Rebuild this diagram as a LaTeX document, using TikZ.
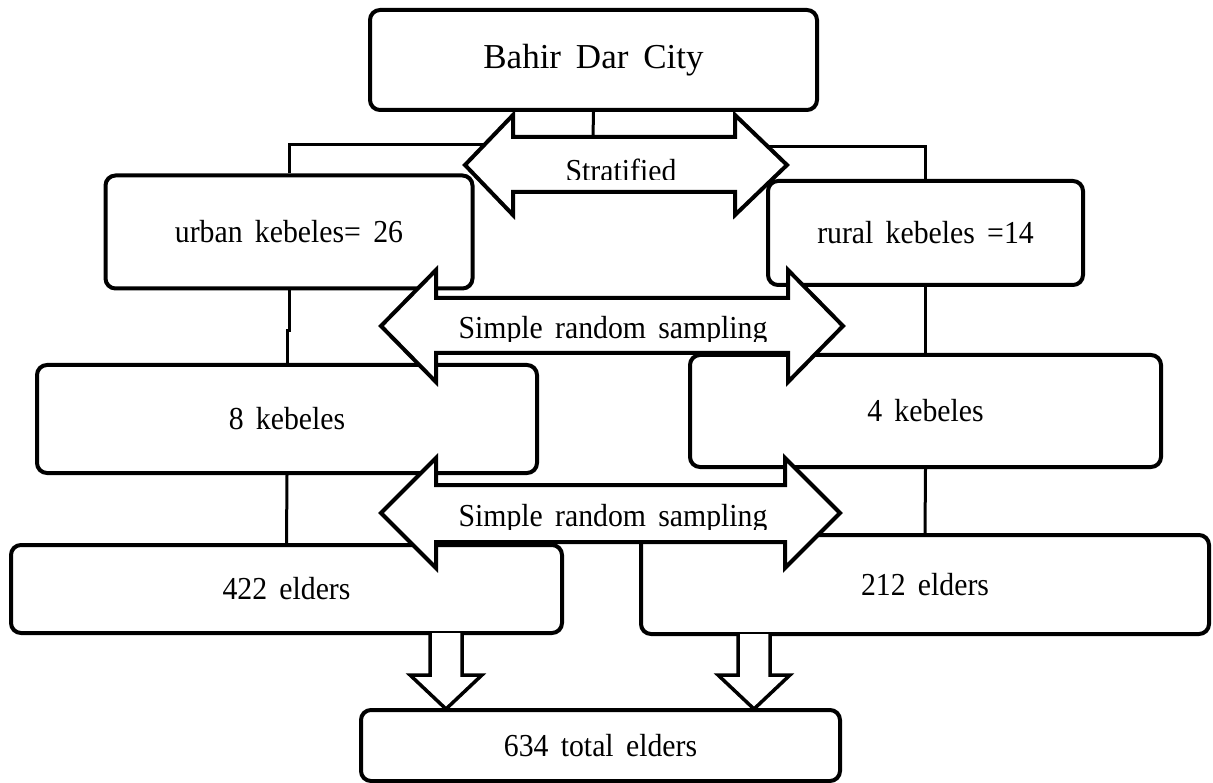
\documentclass[tikz,border=0pt]{standalone}
\usepackage{fontspec}
\setmainfont[WordSpace=1.7]{Liberation Serif}
\newfontfamily\lblfont[FakeStretch=0.93,WordSpace=1.65]{Liberation Serif}
\usetikzlibrary{calc}
\begin{document}
\begin{tikzpicture}[x=1pt,y=-1pt,
  box/.style={draw, line width=4pt, rounded corners=10pt, fill=white, inner sep=0pt, font=\lblfont\fontsize{32}{36}\selectfont},
  conn/.style={line width=3pt},
  bigarrow/.style={draw, line width=4pt, fill=white, line join=miter},
  downarrow/.style={draw, line width=3.5pt, fill=white, line join=miter},
  lbl/.style={anchor=base, inner sep=0pt, font=\lblfont\fontsize{32}{36}\selectfont}]
\useasboundingbox (0,0) rectangle (1213,783);

% boxes
\node[box, minimum width=447pt, minimum height=100pt, font=\rmfamily\fontsize{35}{40}\selectfont] (bahir) at (593.5,60) {Bahir Dar City};
\node[box, minimum width=367pt, minimum height=113pt] (urban) at (289,232) {urban kebeles= 26};
\node[box, minimum width=315pt, minimum height=104pt] (rural) at (925.5,233) {rural kebeles =14};
\node[box, minimum width=500pt, minimum height=108pt] (k8) at (287,419) {8 kebeles};
\node[box, minimum width=471pt, minimum height=112pt] (k4) at (925.5,411) {4 kebeles};
\node[box, minimum width=551pt, minimum height=88pt] (e422) at (286.5,589) {422 elders};
\node[box, minimum width=568pt, minimum height=99pt] (e212) at (925,584.5) {212 elders};
\node[box, minimum width=479pt, minimum height=71pt] (total) at (600.5,745.5) {634 total elders};

% connectors
\coordinate (sTop) at (593,137);
\coordinate (sL) at (500,145);
\coordinate (sR) at (750,147);
\draw[conn] (bahir.south) -- (sTop);
\draw[conn] (urban.north) |- (sL);
\draw[conn] (rural.north) |- (sR);
\draw[conn] (urban.south) -- ++(0,40) -| (k8.north);
\draw[conn] (rural.south) -- (k4.north);
\draw[conn] (k8.south) -- (e422.north);
\draw[conn] (k4.south) -- (e212.north);

% double block arrows
\draw[bigarrow] (465,165) -- (513,115) -- (513,137) -- (735,137) -- (735,115) -- (787,165)
  -- (735,215) -- (735,192) -- (513,192) -- (513,215) -- cycle;
\draw[bigarrow] (381,326) -- (436,270) -- (436,298) -- (788,298) -- (788,270) -- (843,326)
  -- (788,382) -- (788,353) -- (436,353) -- (436,382) -- cycle;
\draw[bigarrow] (381,513) -- (436,458) -- (436,485) -- (785,485) -- (785,458) -- (840,513)
  -- (785,568) -- (785,542) -- (436,542) -- (436,568) -- cycle;

\begin{scope}
  \clip (513,139) rectangle (735,180);
  \node[lbl] (tstrat) at (621,182) {Stratified};
\end{scope}
\begin{scope}
  \clip (436,300) rectangle (788,342);
  \node[lbl] (tsrs1) at (613,339) {Simple random sampling};
\end{scope}
\begin{scope}
  \clip (436,487) rectangle (785,529);
  \node[lbl] (tsrs2) at (613,526) {Simple random sampling};
\end{scope}

% down block arrows
\draw[downarrow] (430,633) -- (430,675) -- (410,675) -- (446,709) -- (482,675) -- (462,675) -- (462,633);
\draw[downarrow] (738,634) -- (738,675) -- (718,675) -- (754,709) -- (790,675) -- (770,675) -- (770,634);
\end{tikzpicture}
\end{document}
